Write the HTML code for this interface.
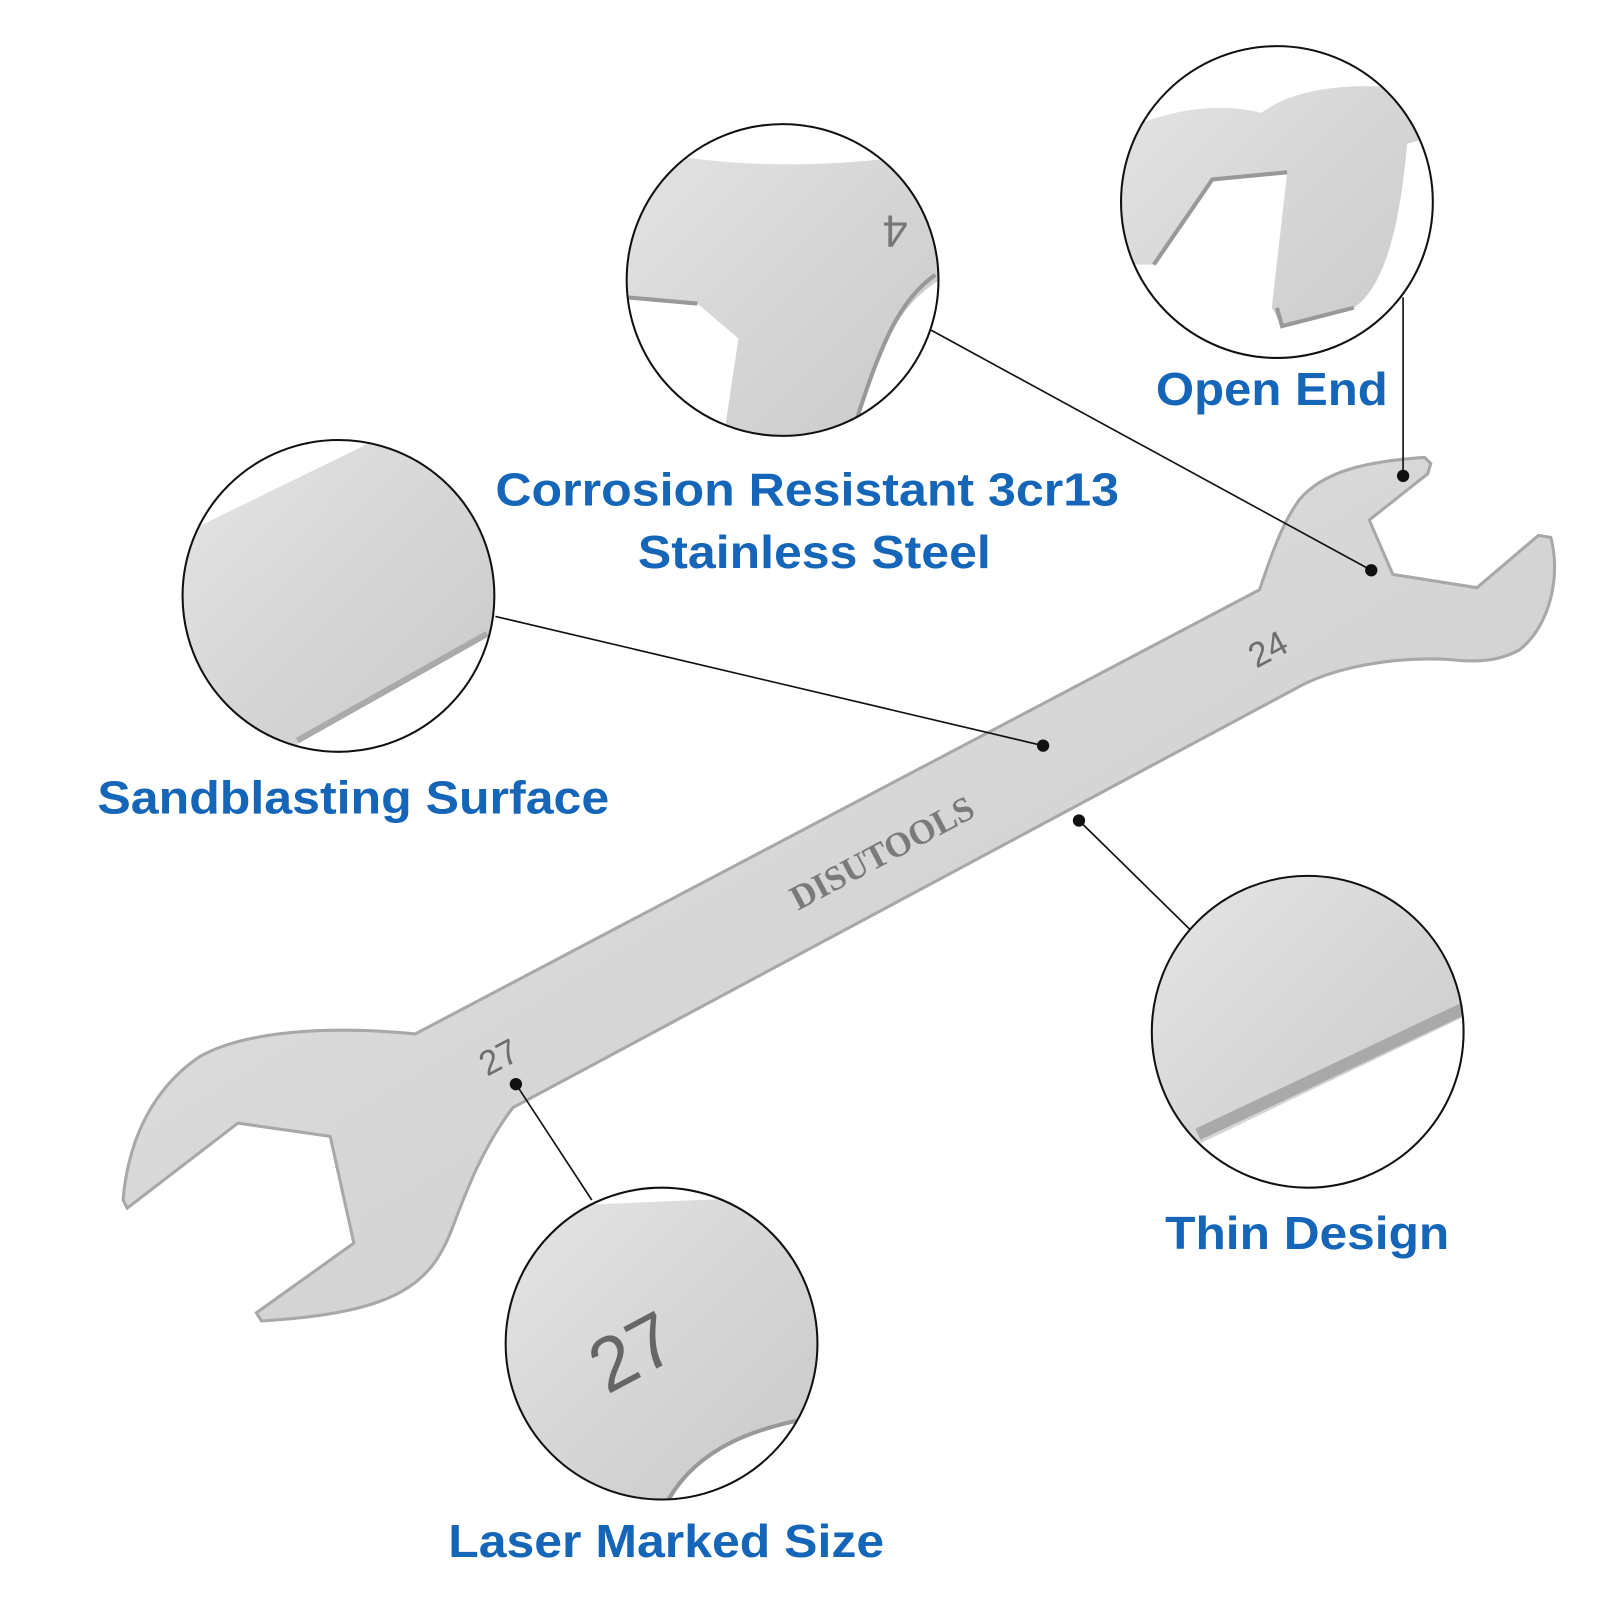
<!DOCTYPE html>
<html><head><meta charset="utf-8"><style>
html,body{margin:0;padding:0;background:#fff;}
svg{display:block}
text{font-family:"Liberation Sans",Arial,sans-serif;font-weight:bold;fill:#1565b8}
</style></head><body>
<svg width="1600" height="1600" viewBox="0 0 1560 1560" xmlns="http://www.w3.org/2000/svg">
<defs>
<linearGradient id="st" x1="0" y1="0" x2="1" y2="1">
<stop offset="0" stop-color="#e6e6e6"/><stop offset="0.5" stop-color="#d6d6d6"/><stop offset="1" stop-color="#c8c8c8"/>
</linearGradient>
<clipPath id="c1"><circle cx="1245" cy="197" r="152"/></clipPath>
<clipPath id="c2"><circle cx="763" cy="273" r="152"/></clipPath>
<clipPath id="c3"><circle cx="330" cy="581" r="152"/></clipPath>
<clipPath id="c4"><circle cx="1275" cy="1006" r="152"/></clipPath>
<clipPath id="c5"><circle cx="645" cy="1310" r="152"/></clipPath>
</defs>

<path d="M405,1008 L1228,575 C1240,540 1250,510 1267,487 C1290,460 1330,450 1389,446 L1395,452 L1392,462 L1335,507 L1358,560 L1440,573 L1500,522 L1512,524 C1522,560 1512,610 1481,634 C1460,645 1440,646 1413,643 C1360,640 1300,650 1262,672 L500,1080 C470,1120 455,1160 440,1200 C420,1250 390,1280 255,1288 L250,1280 L345,1212 L322,1108 L232,1095 L124,1178 L120,1170 C125,1110 150,1060 195,1030 C240,1005 320,1000 405,1008 Z" fill="url(#st)" stroke="#a8a8a8" stroke-width="3"/>
<text x="0" y="0" transform="translate(475,1050) rotate(-28)" style="font-weight:normal;fill:#6d6d6d;font-size:34px">27</text>
<text x="0" y="0" transform="translate(1225,652) rotate(-28)" style="font-weight:normal;fill:#6d6d6d;font-size:34px">24</text>
<text x="0" y="0" transform="translate(778,888) rotate(-28)" style="font-weight:bold;fill:#7a7a7a;font-size:34px;font-family:'Liberation Serif',serif">DISUTOOLS</text>

<g clip-path="url(#c1)">
<rect x="1090" y="40" width="320" height="320" fill="url(#st)"/>
<path d="M1090,40 L1410,40 L1410,90 C1340,80 1270,80 1230,110 C1190,100 1140,105 1090,130 Z" fill="#fff"/>
<path d="M1125,258 L1182,175 L1255,168 L1240,300 L1250,318 L1320,300 C1350,280 1365,220 1372,140 L1410,130 L1410,360 L1090,360 L1090,258 Z" fill="#fff"/>
<path d="M1125,258 L1182,175 L1255,168" fill="none" stroke="#999" stroke-width="4"/>
<path d="M1245,300 L1250,318 L1320,300" fill="none" stroke="#999" stroke-width="4"/>
</g>
<circle cx="1245" cy="197" r="152" fill="none" stroke="#111" stroke-width="2"/>

<g clip-path="url(#c2)">
<rect x="600" y="110" width="330" height="330" fill="url(#st)"/>
<path d="M600,110 L930,110 L930,145 C850,160 760,165 680,155 C650,150 620,150 600,150 Z" fill="#fff"/>
<path d="M600,290 L680,296 L720,330 L705,430 L600,430 Z" fill="#fff"/>
<path d="M930,265 C880,290 860,330 835,410 L930,430 Z" fill="#fff"/>
<path d="M612,290 L680,296" stroke="#999" stroke-width="4"/>
<path d="M912,268 C880,290 860,330 835,410" fill="none" stroke="#999" stroke-width="4"/>
<text x="0" y="0" transform="translate(845,175) rotate(180) translate(-40,-35)" style="font-weight:normal;fill:#777;font-size:44px">4</text>
</g>
<circle cx="763" cy="273" r="152" fill="none" stroke="#111" stroke-width="2"/>

<g clip-path="url(#c3)">
<rect x="170" y="420" width="320" height="320" fill="url(#st)"/>
<path d="M170,420 L360,420 L360,432 L180,520 L170,520 Z" fill="#fff"/>
<path d="M290,725 L475,620 L490,620 L490,740 L290,740 Z" fill="#fff"/>
<path d="M290,722 L475,618" stroke="#aaa" stroke-width="6"/>
</g>
<circle cx="330" cy="581" r="152" fill="none" stroke="#111" stroke-width="2"/>

<g clip-path="url(#c4)">
<rect x="1115" y="845" width="320" height="320" fill="url(#st)"/>
<path d="M1170,1115 L1430,990 L1430,1165 L1115,1165 L1115,1115 Z" fill="#fff"/>
<path d="M1168,1106 L1430,982" stroke="#a9a9a9" stroke-width="12"/>
</g>
<circle cx="1275" cy="1006" r="152" fill="none" stroke="#111" stroke-width="2"/>

<g clip-path="url(#c5)">
<rect x="485" y="1150" width="320" height="320" fill="url(#st)"/>
<path d="M485,1150 L805,1150 L805,1165 L560,1175 L500,1250 L485,1250 Z" fill="#fff"/>
<path d="M805,1380 C740,1390 680,1410 650,1470 L805,1470 Z" fill="#fff"/>
<path d="M805,1380 C740,1390 680,1410 650,1465" fill="none" stroke="#999" stroke-width="4"/>
<text x="0" y="0" transform="translate(592,1360) rotate(-28)" style="font-weight:normal;fill:#666;font-size:74px">27</text>
</g>
<circle cx="645" cy="1310" r="152" fill="none" stroke="#111" stroke-width="2"/>

<g stroke="#111" stroke-width="1.6">
<line x1="1368" y1="464" x2="1368" y2="290"/>
<line x1="1337" y1="556" x2="908" y2="322"/>
<line x1="1017" y1="727" x2="483" y2="601"/>
<line x1="1052" y1="800" x2="1160" y2="906"/>
<line x1="503" y1="1057" x2="577" y2="1170"/>
</g>
<g fill="#111">
<circle cx="1368" cy="464" r="6"/><circle cx="1337" cy="556" r="6"/>
<circle cx="1017" cy="727" r="6"/><circle cx="1052" cy="800" r="6"/>
<circle cx="503" cy="1057" r="6"/>
</g>

<text x="1127" y="395" font-size="45" textLength="226" lengthAdjust="spacingAndGlyphs">Open End</text>
<text x="483" y="493" font-size="45" textLength="608" lengthAdjust="spacingAndGlyphs">Corrosion Resistant 3cr13</text>
<text x="622" y="554" font-size="45" textLength="344" lengthAdjust="spacingAndGlyphs">Stainless Steel</text>
<text x="95" y="793" font-size="45" textLength="499" lengthAdjust="spacingAndGlyphs">Sandblasting Surface</text>
<text x="1136" y="1218" font-size="45" textLength="277" lengthAdjust="spacingAndGlyphs">Thin Design</text>
<text x="437" y="1518" font-size="45" textLength="425" lengthAdjust="spacingAndGlyphs">Laser Marked Size</text>
</svg>
</body></html>
